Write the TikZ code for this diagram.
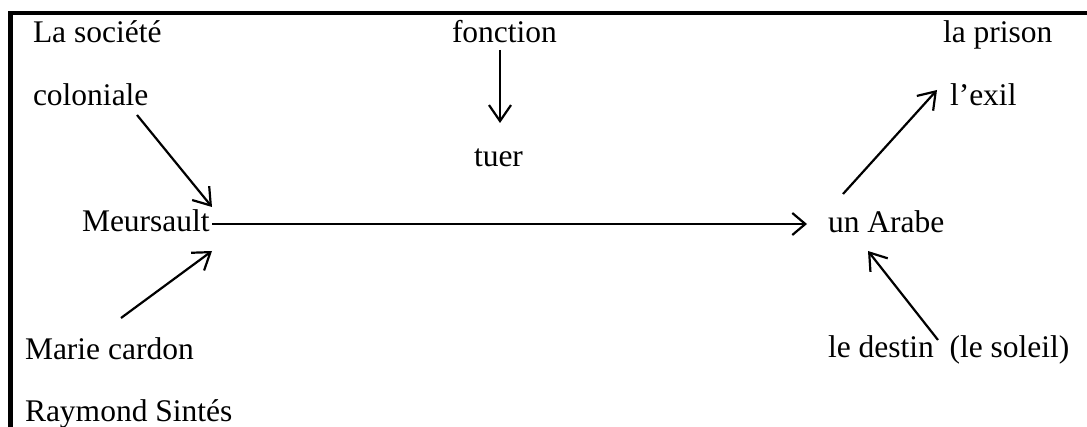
\documentclass[tikz,border=0pt]{standalone}
\usepackage{fontspec}
\setmainfont{Liberation Serif}
\usetikzlibrary{arrows.meta}
\begin{document}
\begin{tikzpicture}[x=1pt,y=1pt,
  lbl/.style={anchor=base west,inner sep=0pt,outer sep=0pt,
              font=\fontsize{31.5}{36}\selectfont},
  arr/.style={line width=2.2pt,
              -{Straight Barb[length=16pt,width=22pt,line width=2.2pt]}},
  flat/.style={line width=2.2pt,
              -{Straight Barb[length=13pt,width=22pt,line width=2.2pt]}},
  frame/.style={line width=4.5pt}]
\useasboundingbox (0,0) rectangle (1087,-427);

% open frame: top and left rules
\draw[frame] (10.5,-427) -- (10.5,-13) -- (1087,-13);

% labels
\node[lbl] (soc)    at (33,-43)   {La société};
\node[lbl] (colo)   at (33,-106)  {coloniale};
\node[lbl] (fonc)   at (452,-43)  {fonction};
\node[lbl] (tuer)   at (474,-167) {tuer};
\node[lbl] (prison) at (943,-43)  {la prison};
\node[lbl] (exil)   at (950,-106) {l’exil};
\node[lbl] (mers)   at (82,-232)  {Meursault};
\node[lbl] (arabe)  at (828,-233) {un Arabe};
\node[lbl] (marie)  at (25,-360)  {Marie cardon};
\node[lbl] (ray)    at (25,-421)  {Raymond Sintés};
\node[lbl] (destin) at (828,-358) {le destin\ \ (le soleil)};

% connectors
\draw[arr] ([shift={(104pt,-9pt)}]colo.base west) -- ([shift={(130pt,25pt)}]mers.base west);
\draw[arr] ([shift={(96pt,42pt)}]marie.base west) -- ([shift={(130pt,-19pt)}]mers.base west);
\draw[arr] ([shift={(48pt,-7pt)}]fonc.base west) -- ([shift={(26pt,44pt)}]tuer.base west);
\draw[flat] ([shift={(130pt,8pt)}]mers.base west) -- ([shift={(-21pt,9pt)}]arabe.base west);
\draw[arr] ([shift={(15pt,39pt)}]arabe.base west) -- ([shift={(-13pt,16pt)}]exil.base west);
\draw[arr] ([shift={(110pt,18pt)}]destin.base west) -- ([shift={(40pt,-18pt)}]arabe.base west);
\end{tikzpicture}
\end{document}
